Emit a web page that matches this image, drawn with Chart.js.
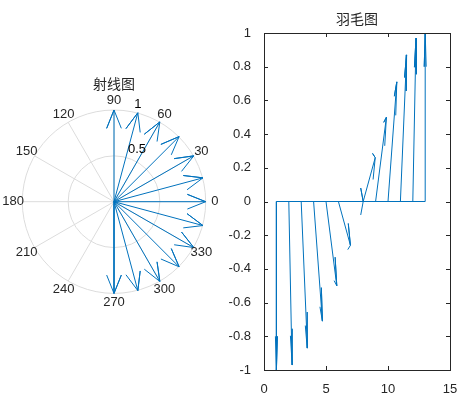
<!DOCTYPE html>
<html><head><meta charset="utf-8">
<title>射线图 / 羽毛图</title>
<script src="https://cdn.jsdelivr.net/npm/chart.js@4.4.7/dist/chart.umd.min.js"></script>
<style>
body{margin:0;background:#fff;width:467px;height:397px;position:relative;overflow:hidden}
canvas{position:absolute;top:0}
#compass{left:0}
#feather{left:220px}
</style></head><body>
<canvas id="compass" width="230" height="397"></canvas>
<canvas id="feather" width="247" height="397"></canvas>
<script>
// 向量分量
var U = [0, 0.26, 0.5, 0.71, 0.87, 0.97, 1, 0.97, 0.87, 0.71, 0.5, 0.26, 0];
var V = [-1, -0.97, -0.87, -0.71, -0.5, -0.26, 0, 0.26, 0.5, 0.71, 0.87, 0.97, 1];
// 羽毛图的基点
var FEATHER_X = [1, 2, 3, 4, 5, 6, 7, 8, 9, 10, 11, 12, 13];
// 极坐标刻度
var ANGLE_TICKS = [0, 30, 60, 90, 120, 150, 180, 210, 240, 270, 300, 330];
var R_TICKS = [0.5, 1];
// 直角坐标刻度
var FX_TICKS = [0, 5, 10, 15];
var FY_TICKS = [-1, -0.8, -0.6, -0.4, -0.2, 0, 0.2, 0.4, 0.6, 0.8, 1];

var BLUE = '#0072BD';
var AXC = '#262626';
var GRID = '#dcdcdc';
var FONT = '"Liberation Sans", Arial, sans-serif';
var CJK = '"Noto Sans CJK SC", sans-serif';

// MATLAB 风格箭头: [0 1 .8 1 .8] + i[0 0 .08 0 -.08] 乘以向量
function arrow(x0, y0, u, v) {
  return [
    {x: x0, y: y0},
    {x: x0 + u, y: y0 + v},
    {x: x0 + 0.8*u - 0.08*v, y: y0 + 0.8*v + 0.08*u},
    {x: x0 + u, y: y0 + v},
    {x: x0 + 0.8*u + 0.08*v, y: y0 + 0.8*v - 0.08*u}
  ];
}

function lineSet(pts) {
  return {data: pts, showLine: true, borderColor: BLUE, borderWidth: 1, pointRadius: 0, fill: false};
}

// ---- 射线图 ----
var cx = 114, cy = 201.7, R = 91.7;
var compassSets = U.map(function(u, i) { return lineSet(arrow(0, 0, u, V[i])); });

var polarGrid = {
  id: 'polarGrid',
  beforeDatasetsDraw: function(chart) {
    var c = chart.ctx, xs = chart.scales.x, ys = chart.scales.y;
    var ox = xs.getPixelForValue(0), oy = ys.getPixelForValue(0);
    var k = xs.getPixelForValue(1) - ox;
    c.save();
    c.strokeStyle = GRID; c.lineWidth = 1;
    R_TICKS.forEach(function(r) {
      c.beginPath(); c.arc(ox, oy, r*k, 0, Math.PI*2); c.stroke();
    });
    ANGLE_TICKS.forEach(function(a) {
      if (a >= 180) return;
      var t = a*Math.PI/180;
      c.beginPath();
      c.moveTo(ox - Math.cos(t)*k, oy + Math.sin(t)*k);
      c.lineTo(ox + Math.cos(t)*k, oy - Math.sin(t)*k);
      c.stroke();
    });
    c.restore();
  },
  afterDatasetsDraw: function(chart) {
    var c = chart.ctx, xs = chart.scales.x, ys = chart.scales.y;
    c.save();
    c.fillStyle = AXC;
    c.font = '13px ' + FONT;
    c.textAlign = 'center'; c.textBaseline = 'middle';
    ANGLE_TICKS.forEach(function(a) {
      var t = a*Math.PI/180;
      c.fillText(String(a), xs.getPixelForValue(1.1*Math.cos(t)), ys.getPixelForValue(1.1*Math.sin(t)));
    });
    // 半径标签 (82 度方向, 左对齐, 底对齐)
    c.textAlign = 'left'; c.textBaseline = 'bottom';
    c.fillStyle = '#000';
    var c82 = Math.cos(82*Math.PI/180), s82 = Math.sin(82*Math.PI/180);
    R_TICKS.forEach(function(r) {
      var rr = r + 0.025;
      c.fillText('  ' + r, xs.getPixelForValue(rr*c82), ys.getPixelForValue(rr*s82) + 2);
    });
    c.fillStyle = AXC;
    c.font = '14px ' + CJK;
    c.textAlign = 'center'; c.textBaseline = 'middle';
    c.fillText('射线图', xs.getPixelForValue(0), ys.getPixelForValue(1.29));
    c.restore();
  }
};

new Chart(document.getElementById('compass'), {
  type: 'scatter',
  data: {datasets: compassSets},
  options: {
    responsive: false, animation: false, devicePixelRatio: 1,
    layout: {padding: 0},
    plugins: {legend: {display: false}, tooltip: {enabled: false}},
    scales: {
      x: {display: false, min: -cx/R, max: (230 - cx)/R},
      y: {display: false, min: -(397 - cy)/R, max: cy/R}
    }
  },
  plugins: [polarGrid]
});

// ---- 羽毛图 ----
var featherSets = FEATHER_X.map(function(x0, i) { return lineSet(arrow(x0, 0, U[i], V[i])); });
featherSets.push(lineSet([{x: FEATHER_X[0], y: 0}, {x: FEATHER_X[FEATHER_X.length - 1], y: 0}]));

var boxTicks = {
  id: 'boxTicks',
  afterDatasetsDraw: function(chart) {
    var c = chart.ctx, a = chart.chartArea, xs = chart.scales.x, ys = chart.scales.y;
    var tl = 4;
    c.save();
    c.strokeStyle = AXC; c.lineWidth = 1;
    c.strokeRect(Math.round(a.left) + 0.5, Math.round(a.top) + 0.5, Math.round(a.right - a.left), Math.round(a.bottom - a.top));
    c.beginPath();
    FX_TICKS.forEach(function(v) {
      var px = Math.round(xs.getPixelForValue(v)) + 0.5;
      c.moveTo(px, a.bottom); c.lineTo(px, a.bottom - tl);
      c.moveTo(px, a.top); c.lineTo(px, a.top + tl);
    });
    FY_TICKS.forEach(function(v) {
      var py = Math.round(ys.getPixelForValue(v)) + 0.5;
      c.moveTo(a.left, py); c.lineTo(a.left + tl, py);
      c.moveTo(a.right, py); c.lineTo(a.right - tl, py);
    });
    c.stroke();
    c.fillStyle = AXC;
    c.font = '14px ' + CJK;
    c.textAlign = 'center'; c.textBaseline = 'middle';
    c.fillText('羽毛图', (a.left + a.right)/2, 19);
    c.restore();
  }
};

new Chart(document.getElementById('feather'), {
  type: 'scatter',
  data: {datasets: featherSets},
  options: {
    responsive: false, animation: false, devicePixelRatio: 1,
    layout: {padding: {top: 33, right: 17, left: 0, bottom: 0}},
    plugins: {legend: {display: false}, tooltip: {enabled: false}},
    scales: {
      x: {
        min: 0, max: 15,
        afterFit: function(s) { s.height = 27; },
        afterBuildTicks: function(s) { s.ticks = FX_TICKS.map(function(v) { return {value: v}; }); },
        grid: {display: false}, border: {display: false},
        ticks: {color: AXC, font: {family: FONT, size: 13}, padding: 4, maxRotation: 0,
          callback: function(v) { return String(v); }}
      },
      y: {
        min: -1, max: 1,
        afterFit: function(s) { s.width = 44; },
        afterBuildTicks: function(s) { s.ticks = FY_TICKS.map(function(v) { return {value: v}; }); },
        grid: {display: false}, border: {display: false},
        ticks: {color: AXC, font: {family: FONT, size: 13}, padding: 5,
          callback: function(v) { return String(v); }}
      }
    }
  },
  plugins: [boxTicks]
});
</script></body></html>
